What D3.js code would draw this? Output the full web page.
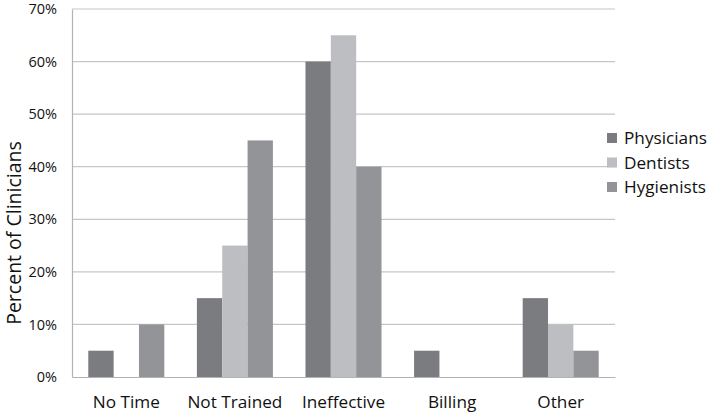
<!DOCTYPE html>
<html><head><meta charset="utf-8">
<script src="https://cdn.jsdelivr.net/npm/d3@7"></script>
<style>body{margin:0;background:#fff}svg{display:block}text{font-family:"Open Sans",sans-serif;fill:#111}</style>
</head><body><svg id="c" width="712" height="417"></svg>
<script>
const categories = ["No Time", "Not Trained", "Ineffective", "Billing", "Other"];
const seriesNames = ["Physicians", "Dentists", "Hygienists"];
const physicians = [5, 15, 60, 5, 15];
const dentists = [0, 25, 65, 0, 10];
const hygienists = [10, 45, 40, 0, 5];
const yTicks = [0, 10, 20, 30, 40, 50, 60, 70];
const colors = ["#7b7c80", "#bdbec2", "#939497"];

const values = [physicians, dentists, hygienists];
const svg = d3.select("#c");
const L = 72, R = 615, T = 9, B = 377;
const x = d3.scaleBand().domain(categories).range([L, R]).paddingInner(0.3).paddingOuter(0.15);
const xs = d3.scaleBand().domain(seriesNames).range([0, x.bandwidth()]);
const y = d3.scaleLinear().domain([0, 70]).range([B, T]);

// gridlines
svg.append("g").selectAll("line").data(yTicks.filter(d => d > 0)).join("line")
  .attr("x1", L).attr("x2", R).attr("y1", d => y(d)).attr("y2", d => y(d))
  .attr("stroke", "#c6c6c6").attr("stroke-width", 1.2);

// bars
categories.forEach((c, i) => {
  seriesNames.forEach((s, j) => {
    const v = values[j][i];
    if (v > 0) svg.append("rect")
      .attr("x", x(c) + xs(s)).attr("width", xs.bandwidth())
      .attr("y", y(v)).attr("height", y(0) - y(v))
      .attr("fill", colors[j]);
  });
});

// axes
const yAxis = svg.append("g").attr("transform", `translate(${L},0)`)
  .call(d3.axisLeft(y).tickValues(yTicks).tickFormat(d => d + "%").tickSize(0).tickPadding(15));
yAxis.select(".domain").attr("stroke", "#b3b3b3").attr("stroke-width", 1.2);
yAxis.selectAll("text").attr("font-size", 14.5).attr("font-family", "Open Sans").attr("fill", "#111");

const xAxis = svg.append("g").attr("transform", `translate(0,${B})`)
  .call(d3.axisBottom(x).tickSize(0).tickPadding(19));
xAxis.select(".domain").attr("stroke", "#b3b3b3").attr("stroke-width", 1.2);
xAxis.selectAll("text").attr("font-size", 17.2).attr("font-family", "Open Sans").attr("fill", "#111");

// y title
svg.append("text").attr("transform", `translate(21,${(T + B) / 2 + 40}) rotate(-90)`)
  .attr("text-anchor", "middle").attr("font-size", 19.5).text("Percent of Clinicians");

// legend
const lg = svg.append("g");
seriesNames.forEach((s, j) => {
  const yy = 138 + j * 24.5;
  lg.append("rect").attr("x", 607).attr("y", yy - 5).attr("width", 10).attr("height", 10).attr("fill", colors[j]);
  lg.append("text").attr("x", 624).attr("y", yy + 6).attr("font-size", 17.2).text(s);
});
</script></body></html>
